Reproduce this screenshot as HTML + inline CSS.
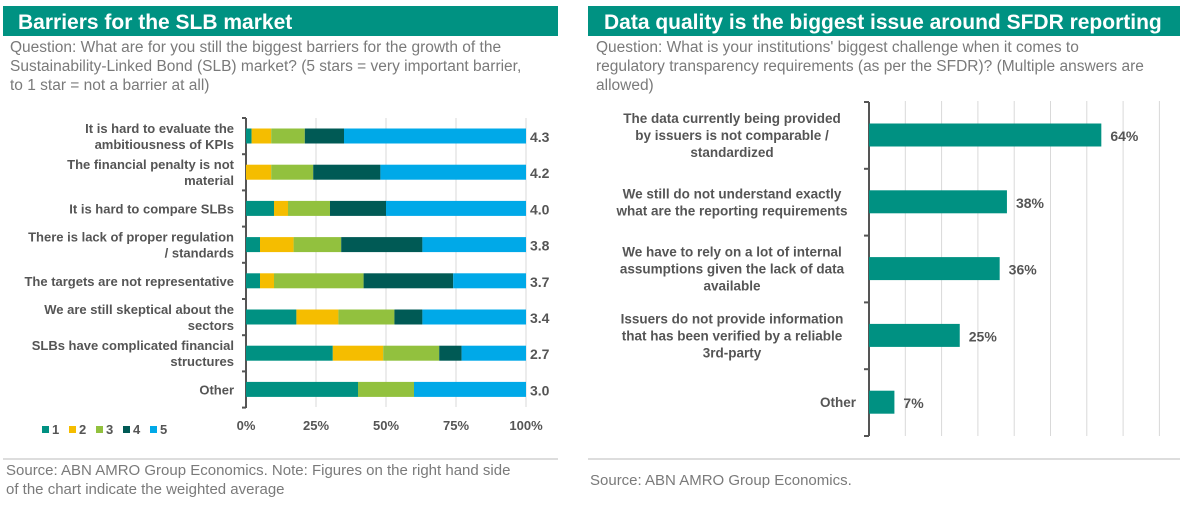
<!DOCTYPE html>
<html><head><meta charset="utf-8"><style>
body{margin:0;width:1186px;height:505px;background:#fff;overflow:hidden;font-family:"Liberation Sans",Arial,sans-serif}
svg text{font-family:"Liberation Sans",Arial,sans-serif}
</style></head><body>
<svg id="s" width="1186" height="505">
<rect x="3" y="6" width="555" height="30" fill="#009282"/>
<text x="18" y="29" font-size="21" font-weight="bold" fill="#fff">Barriers for the SLB market</text>
<g font-size="15.5" fill="#7a7a7a">
<text x="10" y="52">Question:  What are for you still the biggest barriers for the growth of the</text>
<text x="10" y="71">Sustainability-Linked Bond (SLB) market? (5 stars = very important barrier,</text>
<text x="10" y="90">to 1 star = not a barrier at all)</text></g>
<rect x="588" y="6" width="592" height="30" fill="#009282"/>
<text x="604" y="29" font-size="21" font-weight="bold" fill="#fff">Data quality is the biggest issue around SFDR reporting</text>
<g font-size="15.5" fill="#7a7a7a">
<text x="596" y="52">Question:  What is your institutions' biggest challenge when it comes to</text>
<text x="596" y="71">regulatory transparency requirements (as per the SFDR)? (Multiple answers are</text>
<text x="596" y="90">allowed)</text></g>
<line x1="3" y1="459" x2="558" y2="459" stroke="#bbb"/>
<text x="6" y="475" font-size="15" fill="#7a7a7a">Source: ABN AMRO Group Economics. Note: Figures on the right hand side</text>
<text x="6" y="494" font-size="15" fill="#7a7a7a">of the chart indicate the weighted average</text>
<line x1="588" y1="459" x2="1180" y2="459" stroke="#bbb"/>
<text x="590" y="485" font-size="15" fill="#7a7a7a">Source: ABN AMRO Group Economics.</text>
<g id="L"></g><g id="R"></g>
</svg>
<script>
const cats=[["It is hard to evaluate the","ambitiousness of KPIs"],["The financial penalty is not","material"],["It is hard to compare SLBs"],["There is lack of proper regulation","/ standards"],["The targets are not representative"],["We are still skeptical about the","sectors"],["SLBs have complicated financial","structures"],["Other"]];
const s1=[2,0,10,5,5,18,31,40];
const s2=[7,9,5,12,5,15,18,0];
const s3=[12,15,15,17,32,20,20,20];
const s4=[14,24,20,29,32,10,8,0];
const s5=[65,52,50,37,26,37,23,40];
const avgs=["4.3","4.2","4.0","3.8","3.7","3.4","2.7","3.0"];
const xticks=[0,25,50,75,100];
const rcats=[["The data currently being provided","by issuers is not comparable /","standardized"],["We still do not understand exactly","what are the reporting requirements"],["We have to rely on a lot of internal","assumptions given the lack of data","available"],["Issuers do not provide information","that has been verified by a reliable","3rd-party"],["Other"]];
const rvals=[64,38,36,25,7];
const rgrid=[10,20,30,40,50,60,70,80,90];
const NS="http://www.w3.org/2000/svg";
function mk(p,t,a){const e=document.createElementNS(NS,t);for(const k in a)e.setAttribute(k,a[k]);p.appendChild(e);return e;}
const L=document.getElementById('L'),R=document.getElementById('R');
const cols=["#009182","#f5bd00","#92c13e","#005a55","#00a9e8"];
const series=[s1,s2,s3,s4,s5];
const x0=246,xw=280;const lx=v=>x0+v/100*xw;const ly=i=>136+i*36.2;
xticks.forEach(t=>{
 if(t>0){const g=mk(L,'line',{x1:lx(t),x2:lx(t),y1:118,y2:407,stroke:'#d9d9d9'});
 
 }
 const tx=mk(L,'text',{x:lx(t),y:430,'text-anchor':'middle','font-size':13,'font-weight':'bold',fill:'#555'});tx.textContent=t+'%';
 
 
});
const ax=mk(L,'line',{x1:x0,x2:x0,y1:118,y2:408,stroke:'#555','stroke-width':2});


for(let i=0;i<=8;i++){const tk=mk(L,'line',{x1:x0-4,x2:x0,y1:118+i*36.2,y2:118+i*36.2,stroke:'#555','stroke-width':2});

}
cats.forEach((c,i)=>{
 let cum=0;
 series.forEach((s,k)=>{const r=mk(L,'rect',{x:lx(cum),y:ly(i)-7.5,width:lx(cum+s[i])-lx(cum),height:15,fill:cols[k]});cum+=s[i];
 
 });
 const t=mk(L,'text',{'text-anchor':'end','font-size':13,'font-weight':'bold',fill:'#555'});
 
 
 c.forEach((ln,j)=>{const sp=mk(t,'tspan',{x:234,y:ly(i)+5+(j-(c.length-1)/2)*16});sp.textContent=ln;});
 const a=mk(L,'text',{x:530,y:ly(i)+6,'font-size':14,'font-weight':'bold',fill:'#555'});a.textContent=avgs[i];
 
 
});
["1","2","3","4","5"].forEach((n,k)=>{const r=mk(L,'rect',{x:42+k*27,y:426,width:7,height:7,fill:cols[k]});
 
 
 const t=mk(L,'text',{x:52+k*27,y:434,'font-size':13,'font-weight':'bold',fill:'#555'});t.textContent=n;
 
 });
const rx0=869,rs=3.63;const rx=v=>rx0+v*rs;const ry=i=>135+i*66.8;
rgrid.forEach(g=>{if(rx(g)<1182){const l=mk(R,'line',{x1:rx(g),x2:rx(g),y1:101,y2:436,stroke:'#d9d9d9'});
 
 }});
const rax=mk(R,'line',{x1:rx0,x2:rx0,y1:102,y2:436,stroke:'#555','stroke-width':2});


for(let i=0;i<=5;i++){const tk=mk(R,'line',{x1:rx0-5,x2:rx0,y1:102+i*66.8,y2:102+i*66.8,stroke:'#555','stroke-width':2});

}
rcats.forEach((c,i)=>{
 const b=mk(R,'rect',{x:rx0,y:ry(i)-11.5,width:rx(rvals[i])-rx0,height:23,fill:'#009182'});
 
 
 const v=mk(R,'text',{x:rx(rvals[i])+9,y:ry(i)+6,'font-size':14,'font-weight':'bold',fill:'#555'});v.textContent=rvals[i]+'%';
 
 
 const t=mk(R,'text',{'text-anchor':'middle','font-size':13.5,'font-weight':'bold',fill:'#555'});
 
 
 c.forEach((ln,j)=>{const sp=mk(t,'tspan',{x:c.length==1?856:732,y:ry(i)+5+(j-(c.length-1)/2)*17});if(c.length==1)sp.setAttribute('text-anchor','end');sp.textContent=ln;});
});
</script>
</body></html>
